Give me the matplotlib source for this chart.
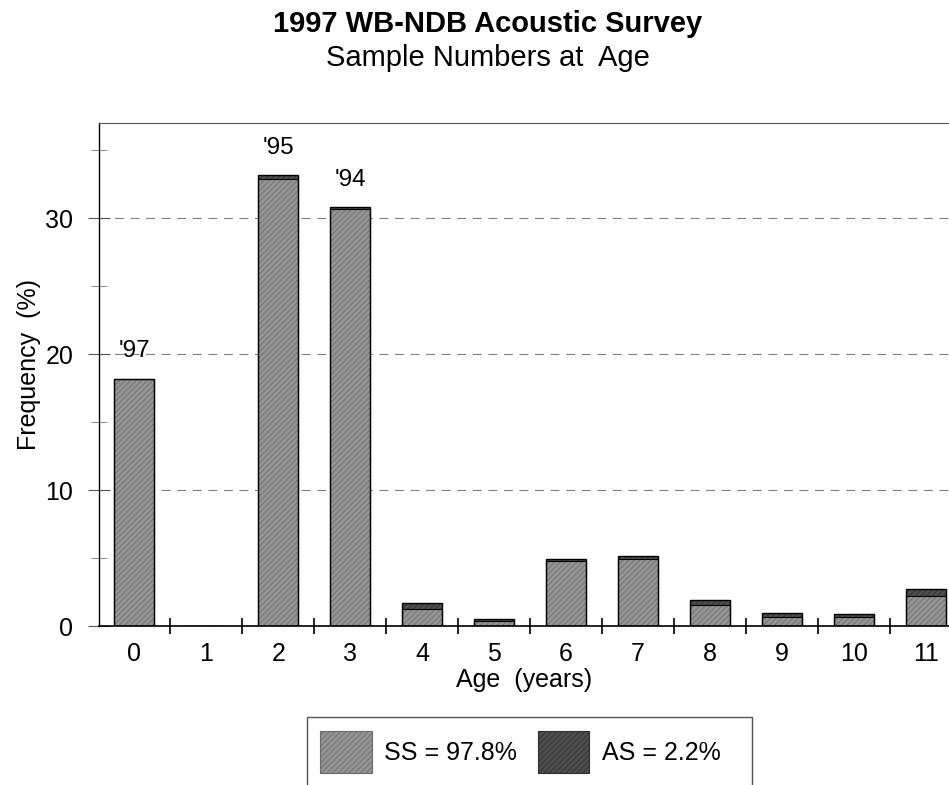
import numpy as np
import matplotlib.pyplot as plt
from matplotlib.patches import Patch, Rectangle

ages = np.arange(12)
age_labels = [str(a) for a in ages]
ss_values = [18.2, 0.0, 32.9, 30.7, 1.25, 0.4, 4.8, 4.9, 1.55, 0.68, 0.7, 2.2]
as_values = [0.0, 0.0, 0.3, 0.1, 0.45, 0.1, 0.1, 0.25, 0.4, 0.25, 0.22, 0.5]
cohort_labels = {0: "'97", 2: "'95", 3: "'94"}

plt.rcParams["font.family"] = ["Liberation Sans", "DejaVu Sans"]
plt.rcParams["hatch.linewidth"] = 0.6

fig = plt.figure(figsize=(9.49, 7.85), dpi=100)
ax = fig.add_axes([0.1043, 0.2025, 0.8957, 0.6405])

width = 0.56
ss_color = "#959595"
as_color = "#4e4e4e"

# hatched fill, then outline on top
ax.bar(ages, ss_values, width, color=ss_color, edgecolor="#6a6a6a",
       hatch="//////", linewidth=0, zorder=2)
ax.bar(ages, as_values, width, bottom=ss_values, color=as_color,
       edgecolor="#2e2e2e", hatch="//////", linewidth=0, zorder=2)
totals = np.array(ss_values) + np.array(as_values)
ax.bar(ages, totals, width, fill=False, edgecolor="black", linewidth=1.0, zorder=3)
ax.bar(ages, ss_values, width, fill=False, edgecolor="black", linewidth=0.8, zorder=3)

for i, txt in cohort_labels.items():
    ax.text(ages[i], totals[i] + 1.2, txt, ha="center", va="bottom", fontsize=17.5)

ax.set_xlim(-0.49, 11.32)
ax.set_ylim(0, 37)
ax.set_yticks([0, 10, 20, 30])
ax.set_yticks([5, 15, 25, 35], minor=True)
ax.set_xticks(ages)
ax.set_xticklabels(age_labels)
ax.set_xticks(np.arange(0.5, 11, 1), minor=True)
ax.tick_params(axis="x", which="major", length=0, labelsize=18, pad=11.5)
ax.tick_params(axis="x", which="minor", length=12, direction="inout", width=1.2)
ax.tick_params(axis="y", which="major", labelsize=18, length=16, direction="inout",
               width=0.8, color="#555555", pad=10.5)
ax.tick_params(axis="y", which="minor", length=12, direction="inout", width=0.6,
               color="#777777")

ax.yaxis.grid(True, which="major", linestyle=(0, (8, 6)), color="#808080", linewidth=0.8)
ax.set_axisbelow(True)
ax.spines["right"].set_visible(False)
ax.spines["top"].set_color("#555555")
ax.spines["left"].set_linewidth(1.0)
ax.spines["bottom"].set_linewidth(1.2)

ax.set_xlabel("Age  (years)", fontsize=18, labelpad=1.5)
ax.set_ylabel("Frequency  (%)", fontsize=18)
ax.yaxis.set_label_coords(-0.068, 0.52)

fig.text(0.514, 0.969, "1997 WB-NDB Acoustic Survey", ha="center", va="center",
         fontsize=21, fontweight="bold")
fig.text(0.514, 0.926, "Sample Numbers at  Age", ha="center", va="center", fontsize=21)

handles = [
    Patch(facecolor=ss_color, edgecolor="#6a6a6a", hatch="//////", linewidth=0.8),
    Patch(facecolor=as_color, edgecolor="#2e2e2e", hatch="//////", linewidth=0.8),
]
leg = fig.legend(handles, ["SS = 97.8%", "AS = 2.2%"], loc="upper center",
                 bbox_to_anchor=(0.5485, 0.0865), borderaxespad=0, ncol=2,
                 fontsize=18, frameon=False, handlelength=2.05, handleheight=2.2,
                 borderpad=0.55, columnspacing=0.85, handletextpad=0.5)

# legend box runs off the bottom of the page, as in the original
fig.patches.append(Rectangle((307 / 949, -0.05), (752 - 307) / 949, 0.05 + 68 / 785,
                             transform=fig.transFigure, fill=False,
                             edgecolor="#555555", linewidth=1.0))

fig.savefig("out.png", dpi=100)
